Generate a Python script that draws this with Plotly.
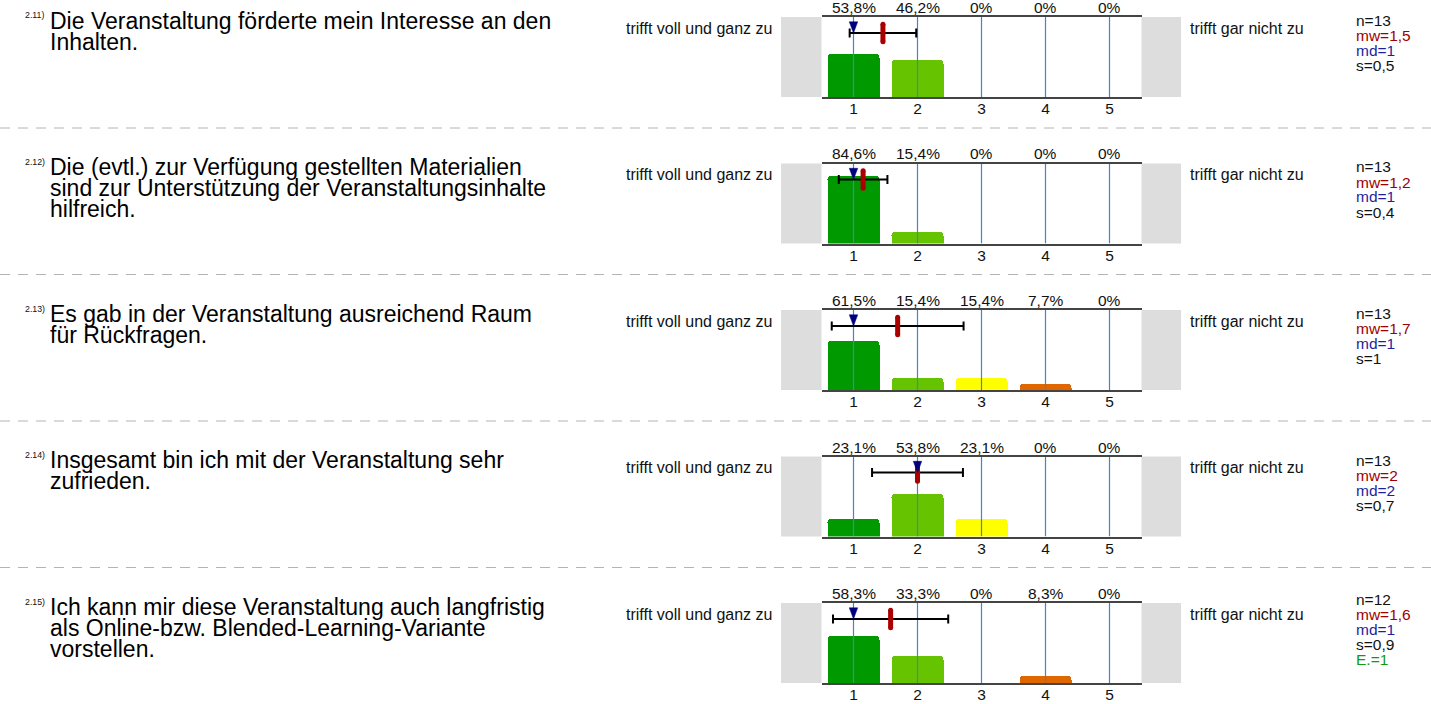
import plotly.graph_objects as go

# ---------------- data ----------------
categories = [1, 2, 3, 4, 5]
tick_labels = ["1", "2", "3", "4", "5"]
question_ids = ["2.11)", "2.12)", "2.13)", "2.14)", "2.15)"]
question_lines = [
    ["Die Veranstaltung förderte mein Interesse an den", "Inhalten."],
    ["Die (evtl.) zur Verfügung gestellten Materialien",
     "sind zur Unterstützung der Veranstaltungsinhalte", "hilfreich."],
    ["Es gab in der Veranstaltung ausreichend Raum", "für Rückfragen."],
    ["Insgesamt bin ich mit der Veranstaltung sehr", "zufrieden."],
    ["Ich kann mir diese Veranstaltung auch langfristig",
     "als Online-bzw. Blended-Learning-Variante", "vorstellen."],
]
left_label = "trifft voll und ganz zu"
right_label = "trifft gar nicht zu"

pct_q1 = [53.8, 46.2, 0, 0, 0]
pct_q2 = [84.6, 15.4, 0, 0, 0]
pct_q3 = [61.5, 15.4, 15.4, 7.7, 0]
pct_q4 = [23.1, 53.8, 23.1, 0, 0]
pct_q5 = [58.3, 33.3, 0, 8.3, 0]
pct_rows = [pct_q1, pct_q2, pct_q3, pct_q4, pct_q5]

n_vals = ["13", "13", "13", "13", "12"]
mw_vals = ["1,5", "1,2", "1,7", "2", "1,6"]
md_vals = ["1", "1", "1", "2", "1"]
s_vals = ["0,5", "0,4", "1", "0,7", "0,9"]
e_vals = [None, None, None, None, "1"]

mean_pos = [1.46, 1.15, 1.69, 2.0, 1.58]
sd_pos = [0.52, 0.38, 1.03, 0.71, 0.90]
median_pos = [1, 1, 1, 2, 1]

# ---------------- style ----------------
W, H = 1431, 704
FONT = "Liberation Sans, Arial, Helvetica, sans-serif"
BAR_COLORS = ["#009900", "#66c300", "#ffff00", "#e06600", "#cc0000"]
GRID = "#4a80c8"
AXLINE = "#444444"
GREY_BOX = "#dddddd"
RED = "#aa0000"
NAVY = "#00007f"
MW_COL = "#a00000"
MD_COL = "#1f1f99"
E_COL = "#119911"
TXT = "#111111"

ROW_TOP0 = 17.0
ROW_STEP = 146.5
ROW_H = 80.0
PLOT_X0, PLOT_X1 = 821.5, 1141.5
ERR_Y = 80.0


def px_x(x):
    return x / W


def px_y(y):
    return 1 - y / H


fig = go.Figure()
shapes = []
annotations = []
layout_axes = {}

for i in range(5):
    k = i + 1
    xa = "x" if k == 1 else f"x{k}"
    ya = "y" if k == 1 else f"y{k}"
    xkey = "xaxis" if k == 1 else f"xaxis{k}"
    ykey = "yaxis" if k == 1 else f"yaxis{k}"
    top = ROW_TOP0 + ROW_STEP * i
    bot = top + ROW_H

    layout_axes[xkey] = dict(
        domain=[px_x(PLOT_X0), px_x(PLOT_X1)], range=[0.5, 5.5], anchor=ya,
        tickvals=categories, ticktext=tick_labels, ticks="", showgrid=False,
        zeroline=False, showline=True, mirror=True, linecolor=AXLINE,
        linewidth=1.5, tickfont=dict(family=FONT, size=15.5, color=TXT),
        ticklabelstandoff=-3, fixedrange=True)
    layout_axes[ykey] = dict(
        domain=[px_y(bot), px_y(top)], range=[0, 100], anchor=xa,
        visible=False, fixedrange=True)

    # bars
    fig.add_trace(go.Bar(
        x=categories, y=pct_rows[i], width=0.8,
        marker=dict(color=BAR_COLORS, cornerradius=4, line=dict(width=0)),
        xaxis=xa, yaxis=ya, showlegend=False, hoverinfo="skip"))
    # vertical grid lines on top of bars
    gx, gy = [], []
    for c in categories:
        gx += [c, c, None]
        gy += [0, 100, None]
    fig.add_trace(go.Scatter(
        x=gx, y=gy, mode="lines", line=dict(color=GRID, width=1.2),
        xaxis=xa, yaxis=ya, showlegend=False, hoverinfo="skip"))
    # standard deviation bar
    fig.add_trace(go.Scatter(
        x=[mean_pos[i]], y=[ERR_Y], mode="markers",
        marker=dict(size=1, color="rgba(0,0,0,0)"),
        error_x=dict(type="data", array=[sd_pos[i]], color="black",
                     thickness=2, width=4.5),
        xaxis=xa, yaxis=ya, showlegend=False, hoverinfo="skip"))
    # mean marker (capsule)
    fig.add_trace(go.Scatter(
        x=[mean_pos[i], mean_pos[i]], y=[ERR_Y - 11, ERR_Y + 11],
        mode="lines+markers", line=dict(color=RED, width=5),
        marker=dict(size=5, color=RED),
        xaxis=xa, yaxis=ya, showlegend=False, hoverinfo="skip"))
    # median marker (triangle)
    m = median_pos[i]
    fig.add_trace(go.Scatter(
        x=[m - 0.066, m + 0.066, m, m - 0.066], y=[94, 94, ERR_Y, 94],
        mode="lines", fill="toself", fillcolor=NAVY,
        line=dict(color=NAVY, width=0.5),
        xaxis=xa, yaxis=ya, showlegend=False, hoverinfo="skip"))

    # grey side boxes
    for (x0, x1) in [(781, PLOT_X0), (PLOT_X1, 1181)]:
        shapes.append(dict(type="rect", xref="paper", yref="paper",
                           x0=px_x(x0), x1=px_x(x1), y0=px_y(bot), y1=px_y(top),
                           fillcolor=GREY_BOX, line=dict(width=0), layer="below"))
    # dashed separator
    if i < 4:
        ys = top + 111
        shapes.append(dict(type="line", xref="paper", yref="paper",
                           x0=0, x1=1, y0=px_y(ys), y1=px_y(ys),
                           line=dict(color="#b4b4b4", width=1, dash="10px,8px")))

    # percentage labels above
    for c, v in zip(categories, pct_rows[i]):
        lab = f"{v:g}".replace(".", ",") + "%"
        annotations.append(dict(
            x=c, y=1, xref=xa, yref=f"{ya} domain", text=lab, showarrow=False,
            xanchor="center", yanchor="middle", yshift=9.5,
            font=dict(family=FONT, size=15.5, color=TXT)))

    # question id + text
    annotations.append(dict(
        x=px_x(23), y=px_y(top - 1.5), xref="paper", yref="paper",
        text=question_ids[i], showarrow=False, xanchor="left", yanchor="middle",
        font=dict(family=FONT, size=8.8, color=TXT)))
    for j, line in enumerate(question_lines[i]):
        annotations.append(dict(
            x=px_x(48), y=px_y(top + 3.5 + 21 * j), xref="paper", yref="paper",
            text=line, showarrow=False, xanchor="left", yanchor="middle",
            font=dict(family=FONT, size=23, color="#000000")))

    # scale labels
    annotations.append(dict(
        x=px_x(774), y=px_y(top + 11), xref="paper", yref="paper",
        text=left_label, showarrow=False, xanchor="right", yanchor="middle",
        font=dict(family=FONT, size=16, color=TXT)))
    annotations.append(dict(
        x=px_x(1188), y=px_y(top + 11), xref="paper", yref="paper",
        text=right_label, showarrow=False, xanchor="left", yanchor="middle",
        font=dict(family=FONT, size=16, color=TXT)))

    # stats block
    stats = [("n=" + n_vals[i], TXT), ("mw=" + mw_vals[i], MW_COL),
             ("md=" + md_vals[i], MD_COL), ("s=" + s_vals[i], TXT)]
    if e_vals[i] is not None:
        stats.append(("E.=" + e_vals[i], E_COL))
    nlines = len(stats)
    start = top + 26 - 15 * (nlines - 1) / 2
    for j, (t, col) in enumerate(stats):
        annotations.append(dict(
            x=px_x(1354), y=px_y(start + 15 * j), xref="paper", yref="paper",
            text=t, showarrow=False, xanchor="left", yanchor="middle",
            font=dict(family=FONT, size=15.5, color=col)))

fig.update_layout(
    width=W, height=H, margin=dict(l=0, r=0, t=0, b=0),
    paper_bgcolor="white", plot_bgcolor="white",
    showlegend=False, bargap=0, shapes=shapes, annotations=annotations,
    font=dict(family=FONT),
    **layout_axes)

fig.write_html(
    "out.html",
    config={"displayModeBar": False, "responsive": False},
    post_script="document.body.style.margin='0';document.body.style.overflow='hidden';",
)
